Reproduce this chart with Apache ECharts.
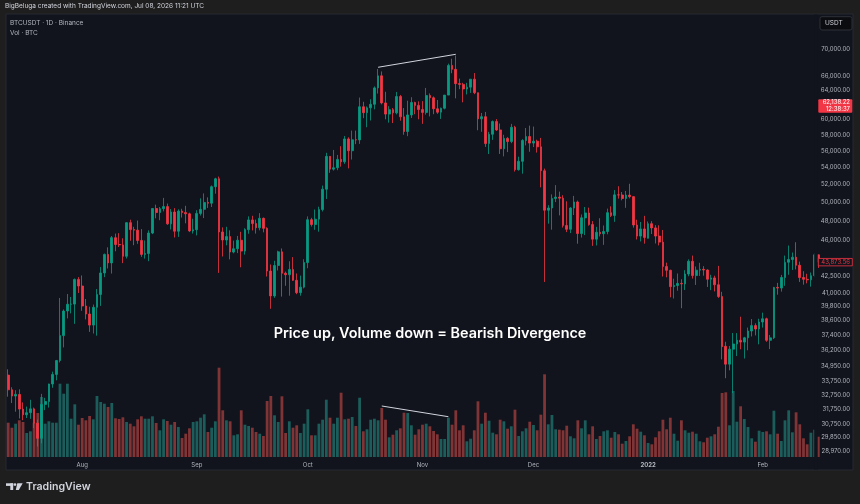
<!DOCTYPE html>
<html>
<head>
<meta charset="utf-8">
<script src="https://cdn.jsdelivr.net/npm/echarts@6/dist/echarts.min.js"></script>
<style>
  html, body { margin: 0; padding: 0; background: #1e1e1e; }
  #chart { width: 860px; height: 504px; }
</style>
</head>
<body>
<div id="chart"></div>
<script>
// BTCUSDT daily, first candle 2021-07-12
const startDay = Date.UTC(2021, 6, 12);

// [open, high, low, close]
const ohlc = [
  [34240, 34679, 32658, 33155], [33155, 33340, 32203, 32702], [32702, 33125, 31600, 32822], [32820, 33185, 31133, 31781],
  [31781, 32249, 31020, 31389], [31389, 31957, 31164, 31533], [31533, 32435, 31108, 31796], [31796, 31885, 30480, 30817],
  [30817, 31062, 29278, 29807], [29807, 32858, 29482, 32110], [32110, 32576, 31708, 32313], [32313, 33600, 31886, 33581],
  [33581, 34500, 33302, 34292], [34292, 35398, 33852, 35350], [35350, 40550, 35205, 37337], [37337, 39542, 36383, 39406],
  [39406, 40900, 38772, 39995], [39995, 40640, 39200, 40008], [40008, 42316, 38313, 42235], [42235, 42448, 41000, 41626],
  // Aug
  [41626, 42600, 39423, 39845], [39845, 40459, 38690, 39147], [39147, 39780, 37642, 38207], [38207, 39969, 37509, 39723],
  [39723, 41350, 37332, 40862], [40862, 43392, 39853, 42836], [42836, 44700, 42446, 44614], [44614, 45310, 43261, 43792],
  [43792, 46454, 42779, 46285], [46280, 46700, 44921, 45595], [45595, 46743, 45341, 45553], [45553, 46218, 43770, 44429],
  [44429, 47886, 44217, 47834], [47834, 48144, 45971, 47112], [47112, 47400, 45525, 47054], [47054, 48053, 45660, 46004],
  [46004, 47160, 44376, 44617], [44617, 46000, 44204, 44701], [44701, 47033, 43955, 46760], [46760, 49382, 46644, 49339],
  [49339, 49757, 48287, 48905], [48905, 49500, 48088, 49321], [49321, 50500, 49030, 49546], [49546, 49876, 47600, 47706],
  [47706, 49277, 47122, 48960], [48960, 49380, 46300, 46942], [46942, 49250, 46360, 49058], [49058, 49309, 48370, 48897],
  [48897, 49632, 47762, 48767], [48767, 48888, 46853, 46970], [46970, 48246, 46700, 47100],
  // Sep
  [47100, 49156, 46512, 48811], [48811, 50450, 48584, 49246], [49246, 51000, 48316, 49999], [50000, 50558, 49400, 49915],
  [49918, 51900, 49500, 51756], [51756, 52780, 50969, 52663], [52666, 52920, 42843, 46863], [46868, 47340, 44412, 46048],
  [46048, 47400, 45514, 46395], [46395, 47033, 44132, 44850], [44842, 45987, 44722, 45173], [45173, 46460, 44742, 46025],
  [46025, 46880, 43370, 44940], [44940, 47250, 44594, 47111], [47103, 48500, 46682, 48121], [48121, 48557, 47021, 47737],
  [47737, 48150, 46699, 47299], [47299, 48843, 47033, 48292], [48292, 48372, 46829, 47241], [47241, 47347, 42500, 43015],
  [43016, 43639, 39600, 40734], [40734, 44000, 40565, 43543], [43546, 44978, 43069, 44866], [44866, 45200, 40675, 42810],
  [42810, 42966, 41646, 42670], [42670, 43950, 40750, 43160], [43160, 44350, 42098, 42147], [42147, 42787, 40888, 41026],
  [41025, 42590, 40753, 41524], [41524, 44141, 41410, 43824],
  // Oct
  [43820, 48495, 43283, 48141], [48141, 48336, 47430, 47634], [47634, 49228, 47088, 48200], [48200, 49536, 46891, 49224],
  [49224, 51886, 49022, 51471], [51471, 55750, 50382, 55315], [55315, 55332, 53357, 53785], [53785, 56100, 53617, 53951],
  [53955, 55489, 53661, 54949], [54949, 56561, 54080, 54659], [54659, 57839, 54415, 57471], [57471, 57680, 53879, 56005],
  [56005, 58533, 54932, 57367], [57367, 58532, 56818, 57347], [57347, 62933, 56850, 61672], [61672, 62350, 60150, 60875],
  [60875, 61718, 58963, 61528], [61528, 62695, 59844, 62009], [62005, 64486, 61322, 64280], [64280, 67000, 63481, 66001],
  [66002, 66639, 62000, 62193], [62193, 63733, 60000, 60688], [60689, 61747, 59562, 61286], [61286, 61500, 59510, 60852],
  [60852, 63710, 60650, 63078], [63078, 63293, 59817, 60328], [60328, 61496, 58000, 58413], [58413, 62499, 57820, 60575],
  [60575, 62980, 60174, 62253], [62253, 62359, 60673, 61859], [61859, 62405, 60000, 61299],
  // Nov
  [61299, 62437, 59405, 60911], [60911, 64270, 60624, 63219], [63220, 63500, 60382, 62896], [62896, 63086, 60677, 61395],
  [61395, 62595, 60721, 60937], [60940, 61560, 60050, 61470], [61470, 63286, 61322, 63273], [63273, 67789, 63273, 67525],
  [67525, 68524, 66382, 66947], [66947, 69000, 62822, 64882], [64883, 65600, 64100, 64774], [64774, 65000, 62278, 64122],
  [64122, 65000, 63360, 64380], [64380, 65550, 63576, 65519], [65520, 66401, 63400, 63607], [63606, 63617, 58575, 60058],
  [60059, 60840, 58373, 60345], [60345, 60976, 56474, 56891], [56891, 58372, 55600, 58052], [58057, 59845, 57353, 59707],
  [59707, 60029, 58486, 58623], [58617, 59444, 55610, 56247], [56247, 58000, 55317, 57541], [57541, 57700, 55837, 57138],
  [57138, 59398, 56938, 58960], [58960, 59150, 53500, 53726], [53723, 55280, 53610, 54721], [54716, 57445, 53256, 57274],
  [57274, 58865, 56667, 57776], [57777, 59175, 55875, 56950],
  // Dec
  [56950, 59053, 56458, 57184], [57185, 57374, 55777, 56480], [56484, 57600, 51680, 53601], [53601, 53859, 42000, 49153],
  [49153, 49699, 47727, 49396], [49397, 50891, 47100, 50441], [50441, 51936, 50039, 50589], [50589, 51200, 48600, 50471],
  [50471, 50797, 47320, 47546], [47535, 50125, 46852, 47140], [47140, 49485, 46751, 49389], [49389, 50724, 48638, 50053],
  [50053, 50205, 45672, 46702], [46702, 48700, 46290, 48343], [48336, 49500, 46547, 48864], [48864, 49436, 47511, 47632],
  [47632, 47995, 45456, 46131], [46134, 47392, 45500, 46834], [46834, 48300, 46406, 46681], [46682, 47537, 45558, 46914],
  [46914, 49328, 46630, 48890], [48887, 49576, 48421, 48588], [48589, 51375, 47920, 50838], [50838, 51810, 50420, 50821],
  [50822, 51156, 50236, 50429], [50429, 51280, 49412, 50809], [50809, 52088, 50450, 50640], [50641, 50704, 47313, 47589],
  [47589, 48139, 46096, 46444], [46444, 47900, 45900, 47179], [47179, 48549, 45678, 46306],
  // Jan 2022
  [46217, 47954, 46208, 47722], [47723, 47990, 46654, 47286], [47286, 47570, 45696, 46446], [46446, 47557, 45502, 45833],
  [45833, 47070, 42500, 43451], [43451, 43816, 42430, 43082], [43082, 43145, 40610, 41566], [41566, 42300, 40501, 41679],
  [41679, 42786, 41200, 41864], [41865, 42248, 39650, 41822], [41822, 43100, 41268, 42735], [42735, 44135, 42528, 43949],
  [43946, 44500, 42311, 42592], [42592, 43448, 41725, 43099], [43099, 43800, 42555, 43177], [43177, 43479, 42581, 43113],
  [43113, 43176, 41540, 42250], [42250, 42664, 41250, 42375], [42375, 42578, 41138, 41744], [41744, 43505, 40553, 40680],
  [40680, 41100, 35440, 36445], [36471, 36835, 34008, 35071], [35071, 36499, 34601, 36244], [36244, 37550, 32917, 36660],
  [36660, 37545, 35701, 36958], [36958, 38919, 36234, 36809], [36808, 37234, 35507, 37160], [37160, 38000, 36155, 37716],
  [37716, 38720, 37268, 38166], [38166, 38359, 37351, 37881], [37882, 38744, 36632, 38467],
  // Feb
  [38467, 39265, 38000, 38744], [38743, 38835, 36833, 36952], [36952, 37387, 36250, 37154], [37154, 41550, 37055, 41500],
  [41500, 41913, 40843, 41441], [41441, 42656, 41116, 42412], [42406, 44500, 41645, 43840], [43854, 45492, 42666, 44118],
  [44118, 44798, 43117, 44338], [44339, 45821, 43174, 43565], [43565, 43920, 42000, 42407], [42408, 43000, 41748, 42244],
  [42244, 42760, 41870, 42197], [42197, 42876, 41570, 42586], [42586, 44751, 42428, 44575], [44575, 44585, 43310, 43873.56]
];

// volume, thousand BTC
const volume = [
  44.6, 38.1, 43.3, 47.7, 45.5, 31.2, 33.4, 44.6, 57.2, 78, 43.3, 46.4, 44.6, 44.6, 95.3, 82.3, 95.3, 49.8, 68.5, 42,
  50.7, 47.7, 53.3, 49, 79.3, 71.5, 69.3, 65, 70.2, 50.3, 49.4, 51.6, 45.5, 43.3, 39.9, 49, 52.9, 49.8, 49.8, 52.9,
  44.2, 34.7, 49, 46.8, 42, 45.5, 39, 24.7, 30.3, 37.3, 45.5, 46.4, 51.1, 55.5, 32.5, 38.1, 46.4, 116.1, 60.7, 47.7,
  46.4, 28.2, 29.5, 60.7, 42, 40.3, 38.1, 32.5, 30.3, 27.3, 72.8, 79.3, 54.2, 45.5, 78.9, 31.2, 46.4, 38.1, 41.2, 31.2,
  43.3, 62, 28.2, 28.2, 43.3, 48.5, 74.5, 51.1, 43.3, 51.1, 83.6, 49, 49.8, 52, 40.3, 77.1, 33.4, 36, 48.5, 49.8,
  47.7, 63.7, 48.5, 25.6, 29, 34.7, 37.3, 57.6, 57.2, 41.2, 29, 36, 42, 43.3, 39.9, 33.8, 29.5, 23.4, 23.4, 51.1,
  42, 60.7, 34.7, 41.2, 20.4, 23.8, 34.7, 72.4, 43.3, 57.6, 47.2, 31.6, 29.5, 48.5, 46.4, 36.8, 39.9, 61.5, 27.3, 33.4,
  37.3, 45.9, 41.6, 34.7, 55, 107.5, 42.5, 54.6, 36, 35.5, 34.7, 40.7, 26.9, 24.3, 47.7, 37.3, 47.7, 29.5, 39.9, 23.4,
  27.3, 33.4, 34.7, 25.1, 32.5, 29.5, 17.3, 20.8, 26.9, 42.5, 36.8, 32.9, 28.2, 18.2, 16.5, 25.6, 33.4, 48.5, 36, 51.1,
  30.3, 21.2, 47.7, 34.7, 31.6, 32.9, 30.3, 20.4, 19.1, 25.1, 26.9, 29.5, 39.4, 83.2, 84.1, 41.2, 85.8, 45.9, 65.9, 49.4,
  39, 24.3, 19.9, 34.2, 32.5, 33.4, 29.5, 60.2, 30.3, 20.8, 47.7, 60.7, 32.1, 58.1, 42.5, 24.3, 16.5, 31.6, 35.5, 26.4
];

// price scale labels on the right
const priceTicks = [70000, 66000, 64000, 60000, 58000, 56000, 54000, 52000, 50000, 48000, 46000, 42500,
  41000, 39800, 38600, 37400, 36200, 34950, 33750, 32750, 31750, 30750, 29850, 28970];

const monthLabels = {
  '2021-08-01': 'Aug', '2021-09-01': 'Sep', '2021-10-01': 'Oct', '2021-11-01': 'Nov',
  '2021-12-01': 'Dec', '2022-01-01': '2022', '2022-02-01': 'Feb'
};

// drawn lines: price highs vs volume
const priceDivergence = [['2021-10-20', 67250], ['2021-11-10', 69190]];
const volumeDivergence = [['2021-10-21', 66.3], ['2021-11-08', 52.4]];

const currentPrice = 62138.22;
const currentCountdown = '12:38:37';
const lastClose = 43873.56;

const dates = ohlc.map((d, i) => new Date(startDay + i * 864e5).toISOString().slice(0, 10));

const upColor = '#089981';
const downColor = '#f23645';
const panelBg = '#11141c';
const font = 'Inter, Roboto, sans-serif';

const gridLeft = 6.35;
const gridWidth = 220 * 3.699;
const gridRight = 860 - gridLeft - gridWidth;

const fmtPrice = v => v.toLocaleString('en-US', { minimumFractionDigits: 2, maximumFractionDigits: 2 });

const chart = echarts.init(document.getElementById('chart'), null, { renderer: 'canvas' });

const option = {
  backgroundColor: '#1e1e1e',
  animation: false,
  grid: [
    { left: gridLeft, right: gridRight, top: 14, height: 456 },
    { left: gridLeft, right: gridRight, top: 357, height: 100 }
  ],
  xAxis: [
    {
      type: 'category', gridIndex: 0, data: dates, boundaryGap: true,
      axisLine: { show: false }, axisTick: { show: false }, axisLabel: { show: false }, splitLine: { show: false }
    },
    {
      type: 'category', gridIndex: 1, data: dates, boundaryGap: true,
      axisLine: { show: false }, axisTick: { show: false }, splitLine: { show: false },
      axisLabel: {
        interval: (i, v) => monthLabels[v] !== undefined,
        formatter: v => v.startsWith('2022-01') ? '{y|' + monthLabels[v] + '}' : monthLabels[v],
        color: '#b2b5be', fontSize: 6, fontFamily: font, margin: 5,
        rich: { y: { fontWeight: 'bold', color: '#b2b5be', fontSize: 6, fontFamily: font } }
      }
    }
  ],
  yAxis: [
    {
      type: 'log', gridIndex: 0, position: 'right', min: 27807, max: 75585,
      axisLine: { show: false }, axisTick: { show: false }, splitLine: { show: false },
      axisLabel: {
        customValues: priceTicks,
        formatter: v => fmtPrice(v),
        align: 'right', margin: 30,
        color: '#b2b5be', fontSize: 6, fontFamily: font
      }
    },
    { type: 'value', gridIndex: 1, min: 0, max: 130, show: false }
  ],
  series: [
    {
      type: 'bar', xAxisIndex: 1, yAxisIndex: 1, barWidth: 2.8, z: 1,
      data: volume.map((v, i) => ({
        value: v,
        itemStyle: { color: ohlc[i][3] >= ohlc[i][0] ? 'rgba(38,166,154,0.5)' : 'rgba(239,83,80,0.5)' }
      })),
      markLine: {
        silent: true, symbol: 'none', label: { show: false },
        lineStyle: { color: '#d1d4dc', width: 1, type: 'solid' },
        data: [[{ coord: volumeDivergence[0] }, { coord: volumeDivergence[1] }]]
      }
    },
    {
      type: 'candlestick', xAxisIndex: 0, yAxisIndex: 0, barWidth: 2.2, z: 3,
      itemStyle: { color: upColor, color0: downColor, borderColor: upColor, borderColor0: downColor, borderWidth: 0.8 },
      data: ohlc.map(d => [d[0], d[3], d[2], d[1]]),
      markLine: {
        silent: true, symbol: 'none', label: { show: false },
        lineStyle: { color: '#d1d4dc', width: 1, type: 'solid' },
        data: [[{ coord: priceDivergence[0] }, { coord: priceDivergence[1] }]]
      }
    }
  ]
};

chart.setOption(option);

const yCur = chart.convertToPixel({ yAxisIndex: 0 }, currentPrice);
const yLast = chart.convertToPixel({ yAxisIndex: 0 }, lastClose);
const edge = gridLeft + 217.9 * 3.699 + 1.85; // right edge of the visible pane

chart.setOption({
  graphic: [
    // chart pane
    { type: 'rect', z: -10, silent: true, shape: { x: 6, y: 14, width: 847, height: 456 },
      style: { fill: panelBg, stroke: '#262830', lineWidth: 1 } },
    // hide the part of the last candle under the price scale
    { type: 'rect', z: 50, silent: true, shape: { x: edge, y: 14.5, width: 3.5, height: 455 }, style: { fill: panelBg } },
    { type: 'text', z: 60, left: 5, top: 3,
      style: { text: 'BigBeluga created with TradingView.com, Jul 08, 2026 11:21 UTC', fill: '#d1d4dc', font: '6.5px ' + font } },
    { type: 'text', z: 60, left: 10, top: 19.5,
      style: { text: 'BTCUSDT · 1D · Binance', fill: '#b2b5be', font: '6.5px ' + font } },
    { type: 'text', z: 60, left: 10, top: 29.5,
      style: { text: 'Vol · BTC', fill: '#b2b5be', font: '6.5px ' + font } },
    // currency box
    { type: 'rect', z: 60, shape: { x: 820, y: 16.7, width: 32, height: 13.3, r: 2 },
      style: { fill: '#0b0c10', stroke: '#2e3038', lineWidth: 1 } },
    { type: 'text', z: 61, x: 825, y: 23.4,
      style: { text: 'USDT', fill: '#d1d4dc', font: '6.5px ' + font, verticalAlign: 'middle' } },
    // current price tag
    { type: 'rect', z: 60, shape: { x: 818.3, y: yCur - 4, width: 34, height: 13.4, r: 1 }, style: { fill: downColor } },
    { type: 'text', z: 61, x: 850, y: yCur - 1.4,
      style: { text: fmtPrice(currentPrice), fill: '#ffffff', font: '6px ' + font, align: 'right', verticalAlign: 'middle' } },
    { type: 'text', z: 61, x: 850, y: yCur + 5.8,
      style: { text: currentCountdown, fill: '#ffffff', font: '6px ' + font, align: 'right', verticalAlign: 'middle' } },
    // last close tag
    { type: 'rect', z: 60, shape: { x: 818.3, y: yLast - 3.6, width: 34, height: 7.4 },
      style: { fill: panelBg, stroke: downColor, lineWidth: 0.8 } },
    { type: 'text', z: 61, x: 850, y: yLast + 0.1,
      style: { text: fmtPrice(lastClose), fill: downColor, font: '6px ' + font, align: 'right', verticalAlign: 'middle' } },
    // annotation
    { type: 'text', z: 60, x: 430, y: 334,
      style: { text: 'Price up, Volume down = Bearish Divergence', fill: '#ffffff', font: '600 14.4px ' + font,
        align: 'center', verticalAlign: 'middle' } },
    // footer logo
    { type: 'rect', z: 60, shape: { x: 6, y: 483.3, width: 7.2, height: 2.6 }, style: { fill: '#d1d4dc' } },
    { type: 'rect', z: 60, shape: { x: 10.3, y: 483.3, width: 2.9, height: 6.7 }, style: { fill: '#d1d4dc' } },
    { type: 'circle', z: 60, shape: { cx: 15, cy: 484.6, r: 1.3 }, style: { fill: '#d1d4dc' } },
    { type: 'polygon', z: 60, shape: { points: [[17.3, 483.3], [22.7, 483.3], [18.8, 490], [15.8, 490]] }, style: { fill: '#d1d4dc' } },
    { type: 'text', z: 60, x: 26, y: 486.7,
      style: { text: 'TradingView', fill: '#d1d4dc', font: '600 10.6px ' + font, verticalAlign: 'middle' } }
  ]
});
</script>
</body>
</html>
